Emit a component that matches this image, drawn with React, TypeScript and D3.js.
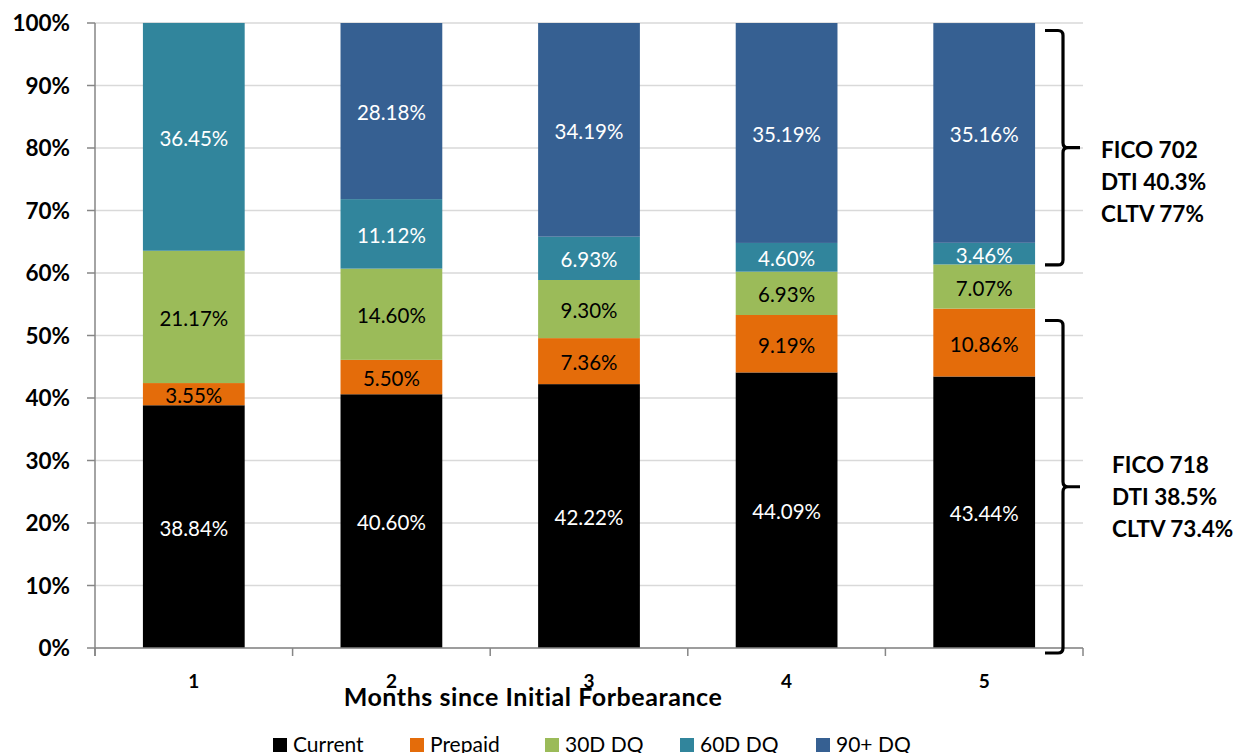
import * as d3 from "d3";

const months = ["1", "2", "3", "4", "5"];
const seriesNames = ["Current", "Prepaid", "30D DQ", "60D DQ", "90+ DQ"];
const current = [38.84, 40.6, 42.22, 44.09, 43.44];
const prepaid = [3.55, 5.5, 7.36, 9.19, 10.86];
const dq30 = [21.17, 14.6, 9.3, 6.93, 7.07];
const dq60 = [36.45, 11.12, 6.93, 4.6, 3.46];
const dq90 = [0, 28.18, 34.19, 35.19, 35.16];
const yTicks = [0, 10, 20, 30, 40, 50, 60, 70, 80, 90, 100];

const colors = ["#000000", "#E46C0A", "#9BBB59", "#31859C", "#366092"];
const labelColors = ["#ffffff", "#000000", "#000000", "#ffffff", "#ffffff"];

// brace annotations: range in % (top, bottom) and text lines
const braces = [
  { top: 98.8, bottom: 61.3, lines: ["FICO 702", "DTI 40.3%", "CLTV 77%"] },
  { top: 52.4, bottom: -0.8, lines: ["FICO 718", "DTI 38.5%", "CLTV 73.4%"] },
];

const W = 1240;
const H = 753;
const left = 95;
const right = 1083;
const top = 23;
const bottom = 648;
const FONT = "Lato, 'Open Sans', sans-serif";

export default function App() {
  const x = d3
    .scaleBand<string>()
    .domain(months)
    .range([left, right])
    .paddingInner(0.485)
    .paddingOuter(0.2425);
  const y = d3.scaleLinear().domain([0, 100]).range([bottom, top]);

  const table = months.map((m, i) => ({
    month: m,
    Current: current[i],
    Prepaid: prepaid[i],
    "30D DQ": dq30[i],
    "60D DQ": dq60[i],
    "90+ DQ": dq90[i],
  }));
  const stacked = d3.stack<any>().keys(seriesNames)(table);

  const boundaries = d3.range(months.length + 1).map((i) => left + x.step() * i);

  const bracePath = (t: number, b: number) => {
    const y0 = y(t);
    const y1 = y(b);
    const ym = (y0 + y1) / 2;
    const x0 = 1045;
    const x1 = 1063;
    const x2 = 1080;
    const r = 5;
    return `M${x0},${y0} L${x1 - r},${y0} Q${x1},${y0} ${x1},${y0 + r} L${x1},${ym - r} Q${x1},${ym} ${x1 + r},${ym} L${x2},${ym} M${x1 + r},${ym} Q${x1},${ym} ${x1},${ym + r} L${x1},${y1 - r} Q${x1},${y1} ${x1 - r},${y1} L${x0},${y1}`;
  };

  const legendX = [273, 410, 545, 680, 816];

  return (
    <svg
      width={W}
      height={H}
      style={{ position: "absolute", left: 0, top: 0, background: "#fff" }}
      fontFamily={FONT}
    >
      {/* gridlines */}
      {yTicks.map((t) => (
        <line key={t} x1={left} x2={right} y1={y(t)} y2={y(t)} stroke="#d9d9d9" strokeWidth={1.5} />
      ))}

      {/* bars */}
      {stacked.map((s, si) =>
        s.map((d, i) => {
          const v = d[1] - d[0];
          if (v <= 0) return null;
          return (
            <rect
              key={`${si}-${i}`}
              x={x(months[i])}
              y={y(d[1])}
              width={x.bandwidth()}
              height={y(d[0]) - y(d[1])}
              fill={colors[si]}
            />
          );
        })
      )}

      {/* data labels */}
      {stacked.map((s, si) =>
        s.map((d, i) => {
          const v = d[1] - d[0];
          if (v <= 0) return null;
          return (
            <text
              key={`l${si}-${i}`}
              x={x(months[i])! + x.bandwidth() / 2}
              y={y((d[0] + d[1]) / 2) + 9}
              textAnchor="middle"
              fontSize={20.5}
              fill={labelColors[si]}
            >
              {v.toFixed(2)}%
            </text>
          );
        })
      )}

      {/* axes */}
      <line x1={left} x2={left} y1={top} y2={bottom + 8} stroke="#868686" strokeWidth={1.5} />
      <line x1={left} x2={right} y1={bottom} y2={bottom} stroke="#868686" strokeWidth={1.5} />
      {yTicks.map((t) => (
        <g key={`yt${t}`}>
          <line x1={left - 8} x2={left} y1={y(t)} y2={y(t)} stroke="#868686" strokeWidth={1.5} />
          <text x={70} y={y(t) + 8} textAnchor="end" fontSize={22.5} fontWeight="bold" fill="#000">
            {t}%
          </text>
        </g>
      ))}
      {boundaries.map((bx, i) => (
        <line key={`xt${i}`} x1={bx} x2={bx} y1={bottom} y2={bottom + 8} stroke="#868686" strokeWidth={1.5} />
      ))}
      {months.map((m) => (
        <text
          key={`xl${m}`}
          x={x(m)! + x.bandwidth() / 2}
          y={688}
          textAnchor="middle"
          fontSize={19}
          fontWeight="bold"
        >
          {m}
        </text>
      ))}
      <text x={533} y={706} textAnchor="middle" fontSize={25} fontWeight="bold" letterSpacing={0.55}>
        Months since Initial Forbearance
      </text>

      {/* braces */}
      {braces.map((b, bi) => {
        const ym = (y(b.top) + y(b.bottom)) / 2;
        const tx = bi === 0 ? 1101 : 1112;
        return (
          <g key={`b${bi}`}>
            <path d={bracePath(b.top, b.bottom)} fill="none" stroke="#000" strokeWidth={3.2} />
            {b.lines.map((ln, li) => (
              <text key={li} x={tx} y={ym + 10 + li * 32 - (bi === 0 ? 0 : 24)} fontSize={22.5} fontWeight="bold">
                {ln}
              </text>
            ))}
          </g>
        );
      })}

      {/* legend */}
      {seriesNames.map((n, i) => (
        <g key={`lg${i}`}>
          <rect x={legendX[i]} y={738} width={14} height={14} fill={colors[i]} />
          <text x={legendX[i] + 20} y={752} fontSize={21}>
            {n}
          </text>
        </g>
      ))}
    </svg>
  );
}
